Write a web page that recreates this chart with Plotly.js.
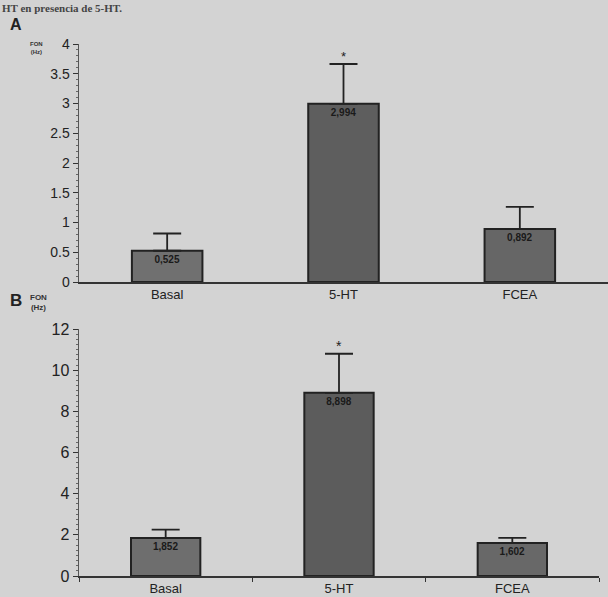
<!DOCTYPE html>
<html><head><meta charset="utf-8">
<script src="https://cdn.plot.ly/plotly-3.0.1.min.js"></script>
<style>html,body{margin:0;padding:0;background:#d3d3d3;}</style>
</head><body><div id="chart" style="width:608px;height:597px;"></div>
<script>
const categories = ['Basal', '5-HT', 'FCEA'];
const meansA = [0.525, 2.994, 0.892];
const errA = [0.29, 0.67, 0.37];
const meansB = [1.852, 8.898, 1.602];
const errB = [0.40, 1.90, 0.25];
const sigLabel = '*';
const labelsA = meansA.map(v => v.toFixed(3).replace('.', ','));
const labelsB = meansB.map(v => v.toFixed(3).replace('.', ','));

const W = 608, H = 597;
const px = x => x / W, py = y => 1 - y / H;

function barTrace(vals, errs, labels, xa, ya, color) {
  return {
    type: 'bar', x: categories, y: vals, xaxis: xa, yaxis: ya,
    marker: {color: color, line: {color: '#222', width: 2}},
    width: 0.4,
    text: labels.map(t => '<b>' + t + '</b>'), textposition: 'inside', insidetextanchor: 'end',
    textfont: {family: 'Liberation Sans, Arial', size: 10, color: '#1a1a1a'},
    textangle: 0,
    error_y: {type: 'data', symmetric: false, array: errs, arrayminus: errs.map(() => 0),
      color: '#222', thickness: 1.8, width: 14},
    cliponaxis: false, hoverinfo: 'none'
  };
}

const data = [
  barTrace(meansA, errA, labelsA, 'x', 'y', ['#707070', '#5e5e5e', '#666666']),
  barTrace(meansB, errB, labelsB, 'x2', 'y2', ['#6e6e6e', '#5c5c5c', '#686868'])
];

const tickFont = {family: 'Liberation Sans, Arial', size: 14, color: '#222'};
const catFont = {family: 'Liberation Sans, Arial', size: 13, color: '#222'};

const layout = {
  width: W, height: H,
  margin: {l: 0, r: 0, t: 0, b: 0},
  paper_bgcolor: '#d3d3d3', plot_bgcolor: 'rgba(0,0,0,0)',
  showlegend: false, bargap: 0.6,
  xaxis: {domain: [px(79), 1], anchor: 'y', type: 'category',
    showline: true, linecolor: '#333', linewidth: 1.5, ticks: '',
    tickfont: catFont, showgrid: false, zeroline: false, fixedrange: true},
  yaxis: {domain: [py(282), py(44)], anchor: 'x', range: [0, 4], dtick: 0.5,
    showline: true, linecolor: '#555', linewidth: 1.5, ticks: 'outside', ticklen: 5, tickcolor: '#333',
    tickfont: tickFont, showgrid: false, zeroline: false,
    minor: {ticks: 'outside', ticklen: 2, dtick: 0.1, tickcolor: '#666'}},
  xaxis2: {domain: [px(79), px(599)], anchor: 'y2', type: 'category',
    showline: true, linecolor: '#333', linewidth: 1.5, ticks: 'outside', ticklen: 4, tickcolor: '#333',
    tickson: 'boundaries', tickfont: catFont, showgrid: false, zeroline: false},
  yaxis2: {domain: [py(576), py(329)], anchor: 'x2', range: [0, 12], dtick: 2,
    showline: true, linecolor: '#555', linewidth: 1.5, ticks: 'outside', ticklen: 5, tickcolor: '#333',
    tickfont: {family: 'Liberation Sans, Arial', size: 16, color: '#222'}, showgrid: false, zeroline: false,
    minor: {ticks: 'outside', ticklen: 2, dtick: 0.25, tickcolor: '#666'}},
  annotations: [
    {xref: 'paper', yref: 'paper', x: px(0), y: 1, xanchor: 'left', yanchor: 'top',
      text: '<b>HT en presencia de 5-HT.</b>', showarrow: false,
      font: {family: 'Liberation Serif, Times New Roman', size: 11, color: '#444'}},
    {xref: 'paper', yref: 'paper', x: px(8), y: py(25), xanchor: 'left', yanchor: 'middle',
      text: '<b>A</b>', showarrow: false, font: {family: 'Liberation Sans, Arial', size: 16, color: '#222'}},
    {xref: 'paper', yref: 'paper', x: px(8), y: py(300), xanchor: 'left', yanchor: 'middle',
      text: '<b>B</b>', showarrow: false, font: {family: 'Liberation Sans, Arial', size: 17, color: '#222'}},
    {xref: 'paper', yref: 'paper', x: px(36), y: py(48), xanchor: 'center', yanchor: 'middle',
      text: '<b>FON<br>(Hz)</b>', showarrow: false, font: {family: 'Liberation Sans, Arial', size: 6, color: '#333'}},
    {xref: 'paper', yref: 'paper', x: px(38), y: py(302), xanchor: 'center', yanchor: 'middle',
      text: '<b>FON<br>(Hz)</b>', showarrow: false, font: {family: 'Liberation Sans, Arial', size: 8, color: '#333'}},
    {xref: 'x', yref: 'y', x: categories[1], y: meansA[1] + errA[1], yanchor: 'bottom', yshift: -2,
      text: sigLabel, showarrow: false, font: {family: 'Liberation Sans, Arial', size: 13, color: '#222'}},
    {xref: 'x2', yref: 'y2', x: categories[1], y: meansB[1] + errB[1], yanchor: 'bottom', yshift: -2,
      text: sigLabel, showarrow: false, font: {family: 'Liberation Sans, Arial', size: 14, color: '#222'}}
  ]
};

Plotly.newPlot('chart', data, layout, {staticPlot: true, displayModeBar: false});
</script></body></html>
